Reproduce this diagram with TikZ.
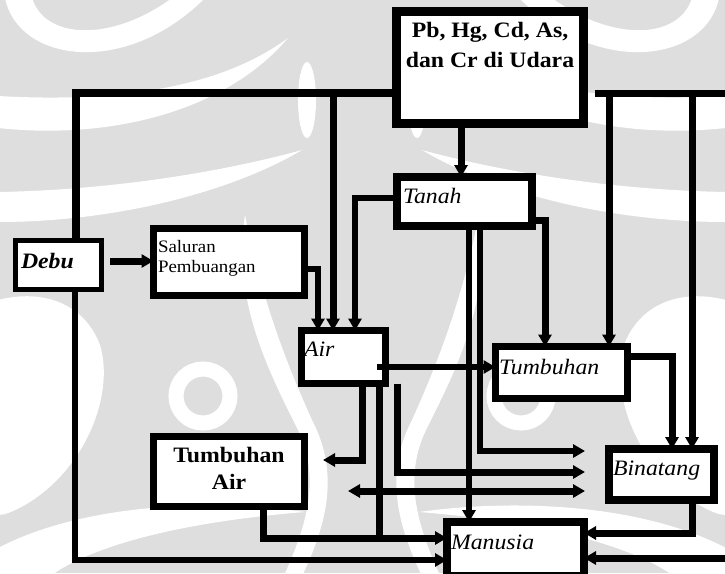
\documentclass[tikz,border=0pt]{standalone}
\usepackage{fontspec}
\setmainfont{Liberation Serif}[FakeStretch=1.08]
\usetikzlibrary{arrows.meta,calc}

\colorlet{wmgrey}{black!13}

\tikzset{
  box/.style={draw=black, fill=white, inner sep=0pt, outer sep=0pt},
  txt/.style={inner sep=0pt, outer sep=0pt, text=black},
  ital/.style={txt, font=\fontsize{22}{25}\selectfont\itshape},
  boldtxt/.style={txt, font=\fontsize{22}{25}\selectfont\bfseries},
  smalltxt/.style={txt, font=\fontsize{17.5}{20}\selectfont},
  wire/.style={draw=black, line width=7pt},
  thinwire/.style={draw=black, line width=6pt},
  tip/.tip={Triangle[length=12pt 0 0,width=13pt 0 0]},
  arr/.style={-tip},
  darr/.style={tip-tip},
}

% one half of the background emblem (white leaves on grey); the other
% half is its mirror image about the vertical axis x = 362
\newcommand\emblemHalf{%
  % top crescent
  \fill[white] (5,-2) .. controls (18,62) and (125,78) .. (205,-2)
               -- (172,-2) .. controls (112,42) and (45,40) .. (32,-2) -- cycle;
  % upper sweeping leaf
  \fill[white] (-2,128) .. controls (110,140) and (225,112) .. (288,38)
               .. controls (215,92) and (105,102) .. (-2,96) -- cycle;
  % lower sweeping leaf
  \fill[white] (-2,222) .. controls (120,222) and (235,190) .. (302,150)
               .. controls (222,172) and (112,190) .. (-2,192) -- cycle;
  % drop beside the trunk
  \fill[white] (307,100) ellipse (9 and 38);
  % lower-left leaf
  \fill[white] (-2,300) .. controls (45,288) and (85,305) .. (100,345)
               .. controls (115,395) and (85,470) .. (25,505)
               .. controls (12,512) and (5,515) .. (-2,515) -- cycle;
  % curl round the small disc
  \draw[white, line width=15pt] (203,396) circle (27);
  % bottom sweep
  \fill[white] (-2,548) .. controls (80,505) and (205,498) .. (305,512)
               .. controls (205,520) and (95,540) .. (45,580) -- (-2,580) -- cycle;
  % stem running down the middle
  \fill[white] (245,215) .. controls (232,300) and (268,370) .. (298,430)
               .. controls (322,480) and (305,530) .. (282,580) -- (300,580)
               .. controls (330,520) and (338,470) .. (312,420)
               .. controls (285,360) and (262,300) .. (245,215) -- cycle;
}

\begin{document}
\begin{tikzpicture}[x=1pt,y=-1pt]
  \useasboundingbox (0,0) rectangle (725,573);

  % background emblem
  \fill[wmgrey] (0,0) rectangle (725,573);
  \begin{scope}
    \clip (0,0) rectangle (725,573);
    \emblemHalf
    \begin{scope}[xshift=724pt, xscale=-1]
      \emblemHalf
    \end{scope}
  \end{scope}

  % junction and end points of the connectors
  \coordinate (jDebu)  at (76,93);
  \coordinate (jAir)   at (333,93);
  \coordinate (xUT)    at (461,150);
  \coordinate (rStart) at (595,93);
  \coordinate (rEnd)   at (730,93);
  \coordinate (rTumb)  at (609,93);
  \coordinate (rBin)   at (692,93);
  \coordinate (tTumb)  at (545,220);
  \coordinate (tMan)   at (469,300);
  \coordinate (tOut)   at (480,451);
  \coordinate (tOutE)  at (585,451);
  \coordinate (tAir)   at (355,198);
  \coordinate (sAir)   at (318,269);
  \coordinate (aStart) at (377,367);
  \coordinate (aLeft)  at (362,460);
  \coordinate (aLeftE) at (323,460);
  \coordinate (aMan)   at (379,538);
  \coordinate (aRight) at (397,472);
  \coordinate (aRightE) at (585,472);
  \coordinate (bothL)  at (348,491);
  \coordinate (bothR)  at (585,491);
  \coordinate (tbBin)  at (672,356);
  \coordinate (bMan)   at (692,533);
  \coordinate (rMan)   at (730,558);
  \coordinate (dSal)   at (110,261);
  \coordinate (dMan)   at (75,560);
  \coordinate (taMan)  at (263,538);

  % boxes
  \node[box, line width=9pt, minimum width=187pt, minimum height=112pt] (udara)    at (490,67.5) {};
  \node[box, line width=8pt, minimum width=135pt, minimum height=49pt]  (tanah)    at (464.5,201.5) {};
  \node[box, line width=5pt, minimum width=86pt,  minimum height=49pt]  (debu)     at (58.5,265) {};
  \node[box, line width=7pt, minimum width=151pt, minimum height=67pt]  (saluran)  at (229,262) {};
  \node[box, line width=7pt, minimum width=84pt,  minimum height=53pt]  (air)      at (343.5,357) {};
  \node[box, line width=7pt, minimum width=132pt, minimum height=52pt]  (tumbuhan) at (561.5,372.5) {};
  \node[box, line width=8pt, minimum width=105pt, minimum height=51pt]  (binatang) at (661.5,474.5) {};
  \node[box, line width=8pt, minimum width=137pt, minimum height=54pt]  (manusia)  at (515.5,549) {};
  \node[box, line width=7pt, minimum width=151pt, minimum height=70pt]  (tumbair)  at (229,471.5) {};

  % connectors
  \draw[wire, line width=8pt] (debu.north -| jDebu) |- (udara.west |- jDebu);
  \draw[wire, arr] (jAir) -- (air.north -| jAir);
  \draw[wire, arr] (udara.south -| xUT) -- (tanah.north -| xUT);
  \draw[wire] (rStart) -- (rEnd);
  \draw[wire, arr] (rTumb) -- (tumbuhan.north -| rTumb);
  \draw[wire, arr] (rBin) -- (binatang.north -| rBin);
  \draw[wire, arr] (tanah.east |- tTumb) -| (tumbuhan.north -| tTumb);
  \draw[thinwire, arr] (tanah.south -| tMan) -- (manusia.north -| tMan);
  \draw[thinwire, arr] (tanah.south -| tOut) |- (tOutE);
  \draw[thinwire, arr] (tanah.west |- tAir) -| (air.north -| tAir);
  \draw[thinwire, arr] (saluran.east |- sAir) -| (air.north -| sAir);
  \draw[thinwire, arr] (aStart) -- (tumbuhan.west |- aStart);
  \draw[wire, arr] (air.south -| aLeft) |- (aLeftE);
  \draw[wire] (air.south -| aMan) -- (aMan);
  \draw[wire, arr] (air.south -| aRight) |- (aRightE);
  \draw[wire, darr] (bothL) -- (bothR);
  \draw[wire, arr] (tumbuhan.east |- tbBin) -| (binatang.north -| tbBin);
  \draw[wire, arr] (binatang.south -| bMan) |- (manusia.east |- bMan);
  \draw[wire, arr] (rMan) -- (manusia.east |- rMan);
  \draw[wire, arr] (dSal) -- (saluran.west |- dSal);
  \draw[thinwire, arr] (debu.south -| dMan) |- (manusia.west |- dMan);
  \draw[wire, arr] (tumbair.south -| taMan) |- (manusia.west |- taMan);

  % labels
  \node[boldtxt, anchor=base] (udaraA) at (490,37) {Pb, Hg, Cd, As,};
  \node[boldtxt, anchor=base] (udaraB) at (490,67) {dan Cr di Udara};
  \node[ital, anchor=base west] (tanahT) at (403,203) {Tanah};
  \node[ital, font=\fontsize{22}{25}\selectfont\bfseries\itshape, anchor=base west] (debuT) at (21,268) {Debu};
  \node[smalltxt, anchor=base west] (salA) at (158,252) {Saluran};
  \node[smalltxt, anchor=base west] (salB) at (158,272) {Pembuangan};
  \node[ital, anchor=base west] (airT) at (304,356) {Air};
  \node[ital, anchor=base west] (tumbT) at (499,374) {Tumbuhan};
  \node[ital, anchor=base west] (binT) at (613,475) {Binatang};
  \node[ital, anchor=base west] (manT) at (451,549) {Manusia};
  \node[boldtxt, anchor=base] (taA) at (229,462) {Tumbuhan};
  \node[boldtxt, anchor=base] (taB) at (229,489) {Air};
\end{tikzpicture}
\end{document}
